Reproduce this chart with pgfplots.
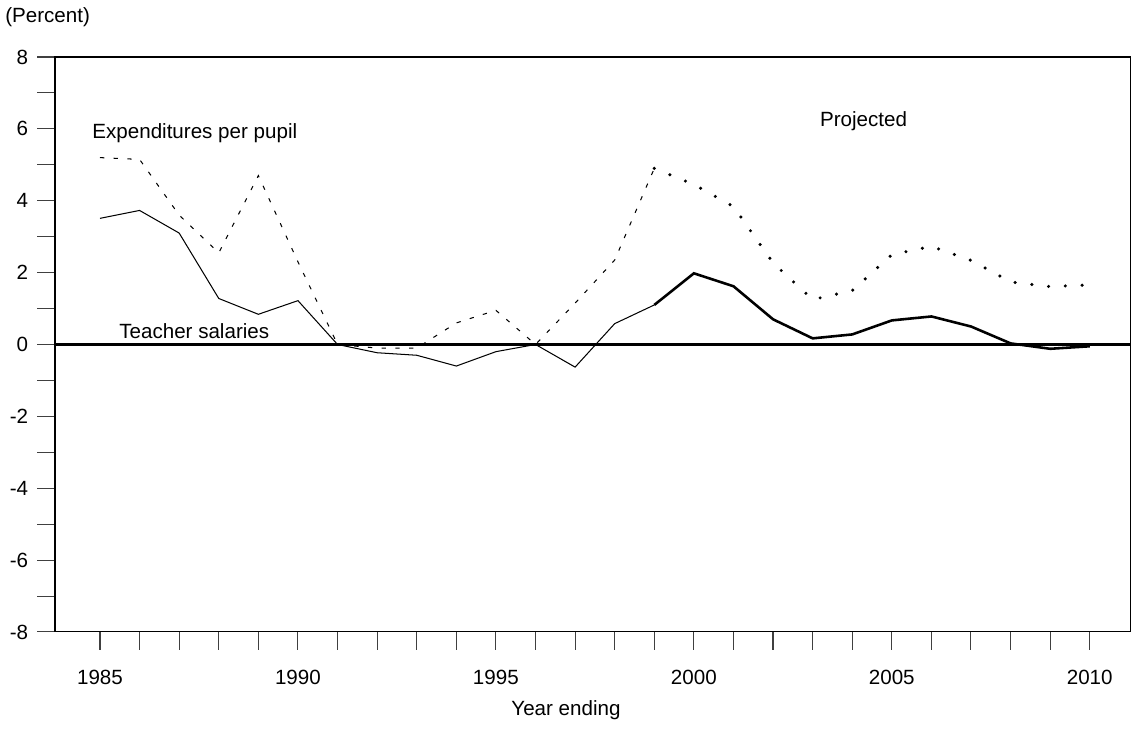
\documentclass[border=0pt]{standalone}
\usepackage{fontspec}
\setmainfont{Liberation Sans}
\usepackage{pgfplots}
\pgfplotsset{compat=1.18}
\begin{document}
\fontsize{12}{14}\selectfont
\begin{tikzpicture}
\begin{axis}[name=ax, scale only axis, width=627.3pt, height=335.2pt,
  xmin=1983.864, xmax=2011.04, ymin=-8, ymax=8,
  axis line style={black, line width=0.6pt},
  xtick={1985,...,2010},
  xticklabels={1985,,,,,1990,,,,,1995,,,,,2000,,,,,2005,,,,,2010},
  ytick={-8,...,8},
  yticklabels={-8,,-6,,-4,,-2,,0,,2,,4,,6,,8},
  tick pos=left, tick align=outside,
  major tick length=10.5pt,
  every tick/.style={black!75, line width=0.6pt},
  tick label style={font=\fontsize{12}{14}\selectfont},
  xticklabel style={yshift=-7.5pt},
  yticklabel style={xshift=-1pt},
  clip=false,
]
\addplot[black, line width=1.4pt] coordinates {(1983.864,0) (2011.04,0)};
% Expenditures per pupil, actual
\addplot[black, line width=0.6pt, dash pattern=on 2.5pt off 5.5pt] coordinates {
(1985,5.2)(1986,5.15)(1987,3.6)(1988,2.55)(1989,4.7)(1990,2.3)(1991,0)(1992,-0.1)(1993,-0.1)(1994,0.6)(1995,0.95)(1996,0)(1997,1.15)(1998,2.35)(1999,4.9)};
% Expenditures per pupil, projected
\addplot[black, line width=2pt, line cap=round, dash pattern=on 0pt off 9.8pt] coordinates {
(1999,4.9)(2000,4.45)(2001,3.84)(2002,2.27)(2003,1.25)(2004,1.5)(2005,2.5)(2006,2.73)(2007,2.34)(2008,1.74)(2009,1.61)(2010,1.66)};
% Teacher salaries, actual
\addplot[black, line width=0.6pt] coordinates {
(1985,3.51)(1986,3.73)(1987,3.1)(1988,1.28)(1989,0.84)(1990,1.22)(1991,0)(1992,-0.23)(1993,-0.3)(1994,-0.6)(1995,-0.2)(1996,0)(1997,-0.63)(1998,0.58)(1999,1.1)};
% Teacher salaries, projected
\addplot[black, line width=1.5pt] coordinates {
(1999,1.1)(2000,1.98)(2001,1.62)(2002,0.7)(2003,0.17)(2004,0.28)(2005,0.67)(2006,0.78)(2007,0.5)(2008,0.03)(2009,-0.12)(2010,-0.05)};
\node[anchor=west, inner sep=0pt] at (axis cs:1984.8,5.88) {Expenditures per pupil};
\node[anchor=west, inner sep=0pt] at (axis cs:1985.48,0.36) {Teacher salaries};
\node[anchor=west, inner sep=0pt] at (axis cs:2003.18,6.21) {Projected};
\end{axis}
\node[anchor=west, inner sep=0pt] at ([shift={(-29.2pt,23.3pt)}]ax.north west) {(Percent)};
\node[anchor=center, inner sep=0pt] at ([shift={(297.9pt,-45.5pt)}]ax.south west) {Year ending};
\pgfresetboundingbox
\path[use as bounding box] ([shift={(-32.07pt,-56pt)}]ax.south west) rectangle ([shift={(0pt,33.23pt)}]ax.north east);
\end{tikzpicture}
\end{document}
